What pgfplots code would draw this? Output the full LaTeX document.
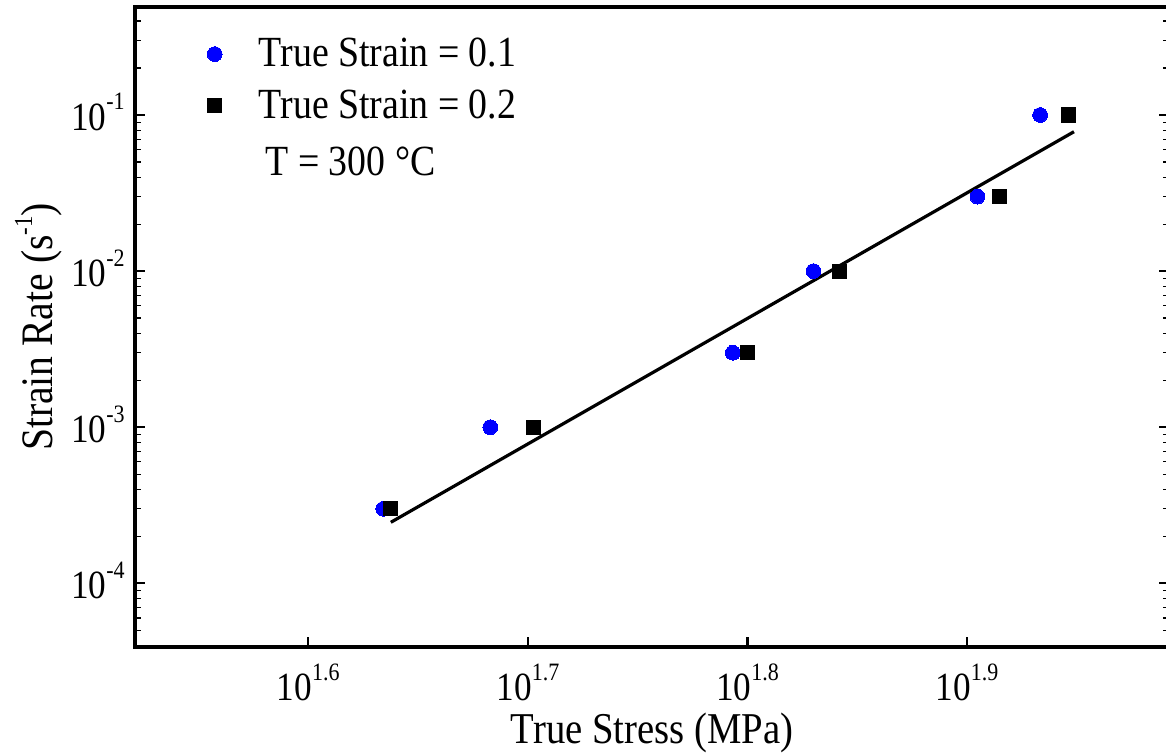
\documentclass[border=0pt]{standalone}
\usepackage{fontspec}
\setmainfont{Liberation Serif}[FakeStretch=0.88]
\usepackage{pgfplots}
\pgfplotsset{compat=1.18}
\newcommand{\tsup}[1]{\raisebox{10pt}{\fontsize{12.5}{12.5}\selectfont #1}}
\newcommand{\lsup}[1]{\raisebox{10pt}{\fontsize{13}{13}\selectfont #1}}
\begin{document}
\begin{tikzpicture}
\begin{loglogaxis}[
  name=ax,
  scale only axis,
  width=516.85pt, height=320pt,
  xmin=33.21, xmax=98.15,
  ymin=3.908e-5, ymax=0.4918,
  xtick={39.8107,50.1187,63.0957,79.4328},
  xticklabels={10\tsup{1.6},10\tsup{1.7},10\tsup{1.8},10\tsup{1.9}},
  minor xtick={},
  ytick={1e-4,1e-3,1e-2,1e-1},
  yticklabels={10\tsup{-4},10\tsup{-3},10\tsup{-2},10\tsup{-1}},
  minor ytick={4e-5,5e-5,6e-5,7e-5,8e-5,9e-5,2e-4,3e-4,4e-4,5e-4,6e-4,7e-4,8e-4,9e-4,2e-3,3e-3,4e-3,5e-3,6e-3,7e-3,8e-3,9e-3,2e-2,3e-2,4e-2,5e-2,6e-2,7e-2,8e-2,9e-2,2e-1,3e-1,4e-1},
  xtick pos=bottom,
  ytick pos=both,
  tick align=inside,
  major tick length=5pt,
  minor tick length=3pt,
  axis line style={line width=2pt},
  major tick style={black, line width=1.1pt},
  minor tick style={black, line width=0.6pt},
  tick label style={font=\fontsize{20}{24}\selectfont},
  xticklabel style={anchor=base, yshift=-26.5pt},
  yticklabel style={anchor=base east, inner sep=0pt, xshift=-5.15pt, yshift=-7.5pt},
  xlabel={True Stress (MPa)},
  ylabel={Strain Rate (s\lsup{-1})},
  xlabel style={at={(axis description cs:0.5,-0.15)}, anchor=base, font=\fontsize{22}{26}\selectfont},
  ylabel style={at={(axis description cs:-0.0806,0.5)}, anchor=base, font=\fontsize{22.5}{26}\selectfont},
  legend style={draw=none, fill=none, font=\fontsize{21.5}{25}\selectfont,
    at={(rel axis cs:0.059,0.958)}, anchor=north west,
    nodes={inner sep=0pt}, column sep=16pt, row sep=10pt},
  legend cell align=left,
  legend image code/.code={\path[draw=none, fill=none] (-6pt,-6pt) rectangle (6pt,6pt); \draw[#1] plot coordinates {(0pt,0pt)};},
]
\addplot[only marks, mark=*, color=blue, mark size=3.7pt, mark options={fill=blue, draw=blue, line width=0pt}]
  coordinates {(43.07,3e-4) (48.18,1e-3) (62.13,3e-3) (67.61,1e-2) (80.29,3e-2) (85.74,1e-1)};
\addlegendentry{True Strain = 0.1}
\addplot[only marks, mark=square*, color=black, mark size=3.5pt, mark options={fill=black, line width=0pt}]
  coordinates {(43.38,3e-4) (50.40,1e-3) (63.12,3e-3) (69.45,1e-2) (82.13,3e-2) (88.29,1e-1)};
\addlegendentry{True Strain = 0.2}
\addplot[black, line width=1.6pt, no marks, forget plot]
  coordinates {(43.41,2.459e-4) (88.84,0.07816)};
\node[anchor=base west, font=\fontsize{21.5}{25}\selectfont, inner sep=0pt] at (rel axis cs:0.1255,0.736) {T = 300 °C};
\end{loglogaxis}
\pgfresetboundingbox
\path[use as bounding box] ([xshift=-67.65pt,yshift=-54pt]ax.south west) rectangle ([xshift=-1.5pt,yshift=3.5pt]ax.north east);
\end{tikzpicture}
\end{document}
